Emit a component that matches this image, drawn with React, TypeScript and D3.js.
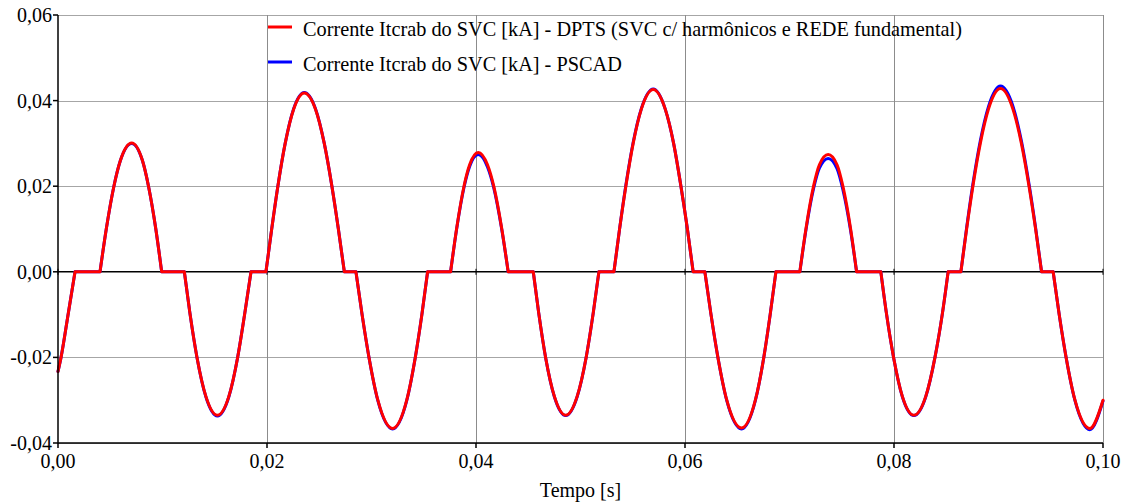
import React from "react";
import * as d3 from "d3";

const time = [
  0.0, 0.00029, 0.00099, 0.00163, 0.00402, 0.00462, 0.00535, 0.00597, 0.00705, 0.00808,
  0.00866, 0.00936, 0.00992, 0.01209, 0.01262, 0.0133, 0.01415, 0.01525, 0.01635, 0.01719,
  0.01788, 0.01847, 0.0199, 0.02045, 0.02104, 0.02174, 0.02255, 0.02357, 0.02464, 0.02548,
  0.02621, 0.02683, 0.0274, 0.02851, 0.0291, 0.02976, 0.03061, 0.03202, 0.03337, 0.03419,
  0.03482, 0.03537, 0.03757, 0.03814, 0.03885, 0.03939, 0.04021, 0.0411, 0.0417, 0.04247,
  0.04308, 0.04548, 0.046, 0.04666, 0.0475, 0.04858, 0.04968, 0.05054, 0.05122, 0.05176,
  0.0532, 0.05374, 0.05434, 0.05504, 0.05582, 0.05696, 0.05811, 0.05891, 0.05961, 0.06023,
  0.06078, 0.0619, 0.06249, 0.06315, 0.064, 0.06541, 0.06673, 0.06754, 0.06815, 0.0687,
  0.07099, 0.07157, 0.0723, 0.07286, 0.0737, 0.07455, 0.07511, 0.07585, 0.07642, 0.07874,
  0.07927, 0.07996, 0.0808, 0.0819, 0.08304, 0.08392, 0.08464, 0.08518, 0.0864, 0.08695,
  0.08755, 0.08826, 0.08904, 0.09019, 0.09138, 0.09219, 0.09292, 0.09355, 0.09412, 0.09523,
  0.09581, 0.09647, 0.09732, 0.09874, 0.1,
];

const dpts = [
  -0.0233, -0.02, -0.0096, 0, 0, 0.01, 0.02, 0.026, 0.0301, 0.026,
  0.02, 0.01, 0, 0, -0.0096, -0.02, -0.0291, -0.0335, -0.0291, -0.02,
  -0.0096, 0, 0, 0.01, 0.02, 0.03, 0.038, 0.0418, 0.038, 0.03,
  0.02, 0.01, 0, 0, -0.01, -0.02, -0.03, -0.0366, -0.03, -0.02,
  -0.01, 0, 0, 0.01, 0.02, 0.025, 0.0279, 0.025, 0.02, 0.01,
  0, 0, -0.0096, -0.02, -0.0291, -0.0335, -0.0291, -0.02, -0.0096, 0,
  0, 0.01, 0.02, 0.03, 0.038, 0.0426, 0.038, 0.03, 0.02, 0.01,
  0, 0, -0.01, -0.02, -0.03, -0.0365, -0.03, -0.02, -0.01, 0,
  0, 0.01, 0.02, 0.025, 0.0274, 0.025, 0.02, 0.01, 0, 0,
  -0.0096, -0.02, -0.0291, -0.0335, -0.0291, -0.02, -0.0096, 0, 0, 0.01,
  0.02, 0.03, 0.038, 0.0428, 0.038, 0.03, 0.02, 0.01, 0, 0,
  -0.01, -0.02, -0.03, -0.0366, -0.03,
];

const pscad = [
  -0.0233, -0.02, -0.0096, 0, 0, 0.01, 0.02, 0.026, 0.03, 0.026,
  0.02, 0.01, 0, 0, -0.0096, -0.02, -0.0292, -0.0337, -0.0292, -0.02,
  -0.0096, 0, 0, 0.01, 0.02, 0.03, 0.0381, 0.0419, 0.0381, 0.03,
  0.02, 0.01, 0, 0, -0.01, -0.02, -0.0301, -0.0367, -0.0301, -0.02,
  -0.01, 0, 0, 0.0099, 0.0197, 0.0246, 0.0274, 0.0245, 0.0196, 0.0098,
  0, 0, -0.0096, -0.02, -0.0292, -0.0336, -0.0292, -0.02, -0.0096, 0,
  0, 0.01, 0.0202, 0.0302, 0.0381, 0.0427, 0.038, 0.03, 0.02, 0.01,
  0, 0, -0.01, -0.02, -0.0301, -0.0367, -0.0301, -0.02, -0.01, 0,
  0, 0.0097, 0.0194, 0.0242, 0.0265, 0.0241, 0.0192, 0.0096, 0, 0,
  -0.0096, -0.02, -0.0292, -0.0336, -0.0292, -0.02, -0.0096, 0, 0, 0.0103,
  0.0205, 0.0306, 0.0386, 0.0434, 0.0387, 0.0306, 0.0205, 0.0103, 0, 0,
  -0.01, -0.02, -0.0301, -0.0369, -0.0302,
];

const xTicks = [0, 0.02, 0.04, 0.06, 0.08, 0.1];
const xTickLabels = ["0,00", "0,02", "0,04", "0,06", "0,08", "0,10"];
const yTicks = [-0.04, -0.02, 0, 0.02, 0.04, 0.06];
const yTickLabels = ["-0,04", "-0,02", "0,00", "0,02", "0,04", "0,06"];
const legendLabels = [
  "Corrente Itcrab do SVC [kA] - DPTS (SVC c/ harmônicos e REDE fundamental)",
  "Corrente Itcrab do SVC [kA] - PSCAD",
];
const xTitle = "Tempo [s]";

const W = 1128;
const H = 502;
const L = 58;
const R = 1103;
const T = 15;
const B = 443;
const FONT = "'Liberation Serif', 'Times New Roman', serif";

export default function App() {
  const x = d3.scaleLinear().domain([0, 0.1]).range([L, R]);
  const y = d3.scaleLinear().domain([-0.04, 0.06]).range([B, T]);

  // Each conduction lobe is drawn as its own smooth piece, joined by straight
  // zero-current segments, so the corners stay sharp as in the reference.
  const buildPath = (vals: number[]) => {
    const gen = d3
      .line<number>()
      .x((i) => x(time[i]))
      .y((i) => y(vals[i]))
      .curve(d3.curveMonotoneX);
    let d = "";
    let start = 0;
    for (let i = 1; i < vals.length; i++) {
      if (vals[i] === 0 || i === vals.length - 1) {
        d += gen(d3.range(start, i + 1)) || "";
        start = i;
      }
    }
    return d;
  };

  const redPath = buildPath(dpts);
  const bluePath = buildPath(pscad);

  return (
    <svg
      width={W}
      height={H}
      style={{ position: "absolute", left: 0, top: 0, background: "#fff" }}
      fontFamily={FONT}
    >
      <rect x={0} y={0} width={W} height={H} fill="#fff" />
      {yTicks.map((t) =>
        t === 0 ? null : (
          <line
            key={"gy" + t}
            x1={L}
            x2={R}
            y1={Math.round(y(t)) + 0.5}
            y2={Math.round(y(t)) + 0.5}
            stroke="#a6a6a6"
            strokeWidth={1}
          />
        )
      )}
      {xTicks.map((t) =>
        t === 0 ? null : (
          <line
            key={"gx" + t}
            x1={Math.round(x(t)) + 0.5}
            x2={Math.round(x(t)) + 0.5}
            y1={T}
            y2={B}
            stroke="#8c8c8c"
            strokeWidth={1}
          />
        )
      )}
      <line x1={L} x2={R} y1={y(0)} y2={y(0)} stroke="#000" strokeWidth={1.5} />
      {xTicks.map((t) => (
        <line key={"zt" + t} x1={x(t)} x2={x(t)} y1={y(0) - 3} y2={y(0) + 3} stroke="#000" strokeWidth={1} />
      ))}
      <path d={bluePath} fill="none" stroke="#0000ff" strokeWidth={3} strokeLinejoin="round" strokeLinecap="round" />
      <path d={redPath} fill="none" stroke="#ff0000" strokeWidth={3} strokeLinejoin="round" strokeLinecap="round" />
      <line x1={L} x2={L} y1={T} y2={B + 0.5} stroke="#000" strokeWidth={1.5} />
      <line x1={L} x2={R} y1={B} y2={B} stroke="#000" strokeWidth={1.5} />
      {yTicks.map((t, i) => (
        <g key={"yt" + t}>
          <line x1={L - 5} x2={L} y1={y(t)} y2={y(t)} stroke="#000" strokeWidth={1.5} />
          <text x={L - 6} y={y(t) + 7} textAnchor="end" fontSize={20} fill="#000">
            {yTickLabels[i]}
          </text>
        </g>
      ))}
      {xTicks.map((t, i) => (
        <g key={"xt" + t}>
          <line x1={x(t)} x2={x(t)} y1={B} y2={B + 5} stroke="#000" strokeWidth={1.5} />
          <text x={x(t)} y={B + 25} textAnchor="middle" fontSize={20} fill="#000">
            {xTickLabels[i]}
          </text>
        </g>
      ))}
      <text x={(L + R) / 2} y={497} textAnchor="middle" fontSize={20} fill="#000">
        {xTitle}
      </text>
      <line x1={268} x2={292} y1={27} y2={27} stroke="#ff0000" strokeWidth={3} />
      <text x={303} y={36} fontSize={20.3} fill="#000">
        {legendLabels[0]}
      </text>
      <line x1={268} x2={292} y1={62} y2={62} stroke="#0000ff" strokeWidth={3} />
      <text x={303} y={71} fontSize={20.3} fill="#000">
        {legendLabels[1]}
      </text>
    </svg>
  );
}
